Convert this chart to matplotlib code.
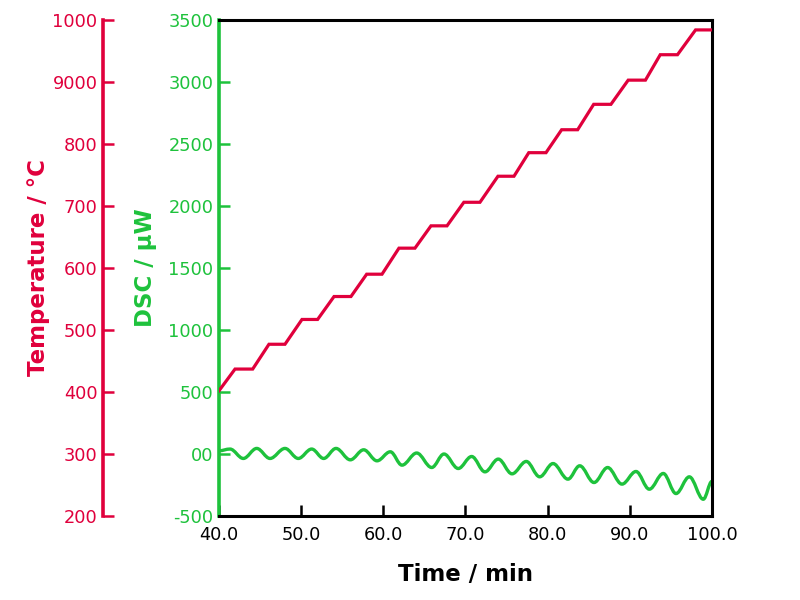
import matplotlib
matplotlib.use("Agg")
import matplotlib.pyplot as plt
from matplotlib.path import Path
from matplotlib.patches import PathPatch

RED = "#e0003c"
GREEN = "#1ec23c"

# Temperature programme (step heating)
temp_time = [40.0, 41.95, 44.1, 46.08, 48.03, 50.1, 52.0, 54.0, 56.06, 57.97, 59.84,
             61.9, 63.85, 65.8, 67.75, 69.8, 71.76, 73.95, 75.9, 77.7, 79.8,
             81.7, 83.65, 85.6, 87.7, 89.8, 91.9, 93.7, 95.8, 98.0, 100.0]
temp_val = [402, 437, 437, 477, 477, 517, 517, 554, 554, 590, 590,
            632, 632, 668, 668, 706, 706, 748, 748, 786, 786,
            823, 823, 864, 864, 903, 903, 944, 944, 984, 984]

# DSC signal: start, successive extrema, end
dsc_time = [40.0, 41.34, 42.96, 44.59, 46.21, 48.03, 49.65, 51.28, 52.74, 54.24,
            55.98, 57.61, 59.23, 60.85, 62.27, 64.06, 65.89, 67.38, 69.12, 70.75,
            72.37, 73.99, 75.66, 77.40, 79.03, 80.65, 82.47, 83.90, 85.64, 87.30,
            89.04, 90.75, 92.37, 94.07, 95.62, 97.24, 98.94, 100.0]
dsc_val = [26, 40, -36, 45, -36, 45, -36, 40, -36, 45,
           -47, 34, -55, 18, -90, 8, -109, 0, -117, -20,
           -144, -41, -160, -60, -184, -77, -203, -95, -230, -109,
           -243, -141, -284, -157, -319, -184, -365, -220]

x_ticks = [40, 50, 60, 70, 80, 90, 100]
x_labels = ["40.0", "50.0", "60.0", "70.0", "80.0", "90.0", "100.0"]
dsc_ticks = [-500, 0, 500, 1000, 1500, 2000, 2500, 3000, 3500]
dsc_labels = ["-500", "00", "500", "1000", "1500", "2000", "2500", "3000", "3500"]
temp_ticks = [200, 300, 400, 500, 600, 700, 800, 900, 1000]
temp_labels = ["200", "300", "400", "500", "600", "700", "800", "9000", "1000"]

plt.rcParams["font.family"] = ["DejaVu Sans"]
fig = plt.figure(figsize=(8, 6), dpi=100)
ax = fig.add_axes([219/800, 1-516/600, (712-219)/800, (516-20)/600])
ax2 = ax.twinx()

# DSC curve drawn as smooth Bezier through the extrema (horizontal tangents)
verts = [(dsc_time[0], dsc_val[0])]
codes = [Path.MOVETO]
for i in range(1, len(dsc_time)):
    t0, y0 = dsc_time[i-1], dsc_val[i-1]
    t1, y1 = dsc_time[i], dsc_val[i]
    d = (t1 - t0) * 0.36
    verts += [(t0 + d, y0), (t1 - d, y1), (t1, y1)]
    codes += [Path.CURVE4] * 3
ax.add_patch(PathPatch(Path(verts, codes), fill=False, edgecolor=GREEN,
                       lw=2.4, capstyle="round", joinstyle="round"))

ax2.plot(temp_time, temp_val, color=RED, lw=2.3, solid_joinstyle="miter")

ax.set_xlim(40, 100)
ax.set_ylim(-500, 3500)
ax2.set_ylim(200, 1000)

fs = 12.8
ax.set_xticks(x_ticks)
ax.set_xticklabels(x_labels, fontsize=fs)
ax.set_yticks(dsc_ticks)
ax.set_yticklabels(dsc_labels, fontsize=fs, color=GREEN)
ax.tick_params(axis="x", direction="in", length=8, width=1.8, pad=7, colors="black")
ax.tick_params(axis="y", direction="in", length=8, width=1.8, pad=4, colors=GREEN)
ax.tick_params(axis="y", which="both", right=False)

for s in ["top", "right", "bottom"]:
    ax.spines[s].set_color("black")
    ax.spines[s].set_linewidth(2.2)
ax.spines["left"].set_color(GREEN)
ax.spines["left"].set_linewidth(2.6)

ax2.yaxis.set_ticks_position("left")
ax2.yaxis.set_label_position("left")
ax2.spines["left"].set_position(("outward", 116 * 72 / 100))
ax2.spines["left"].set_visible(True)
ax2.spines["left"].set_color(RED)
ax2.spines["left"].set_linewidth(2.6)
ax2.spines["right"].set_visible(False)
ax2.spines["top"].set_visible(False)
ax2.spines["bottom"].set_visible(False)
ax2.set_yticks(temp_ticks)
ax2.set_yticklabels(temp_labels, fontsize=fs, color=RED)
ax2.tick_params(axis="y", direction="in", length=8, width=1.8, pad=4, colors=RED)

lfs = 16.5
ax.set_xlabel("Time / min", fontsize=lfs, fontweight="bold")
ax.xaxis.set_label_coords(0.5, -0.095)
ax.set_ylabel("DSC / µW", fontsize=lfs, fontweight="bold", color=GREEN)
ax.yaxis.set_label_coords((157-219)/493, 0.5)
ax2.set_ylabel("Temperature / °C", fontsize=lfs, fontweight="bold", color=RED)
ax2.yaxis.set_label_coords((50-219)/493, 0.5)

fig.savefig("out.png", dpi=100)
